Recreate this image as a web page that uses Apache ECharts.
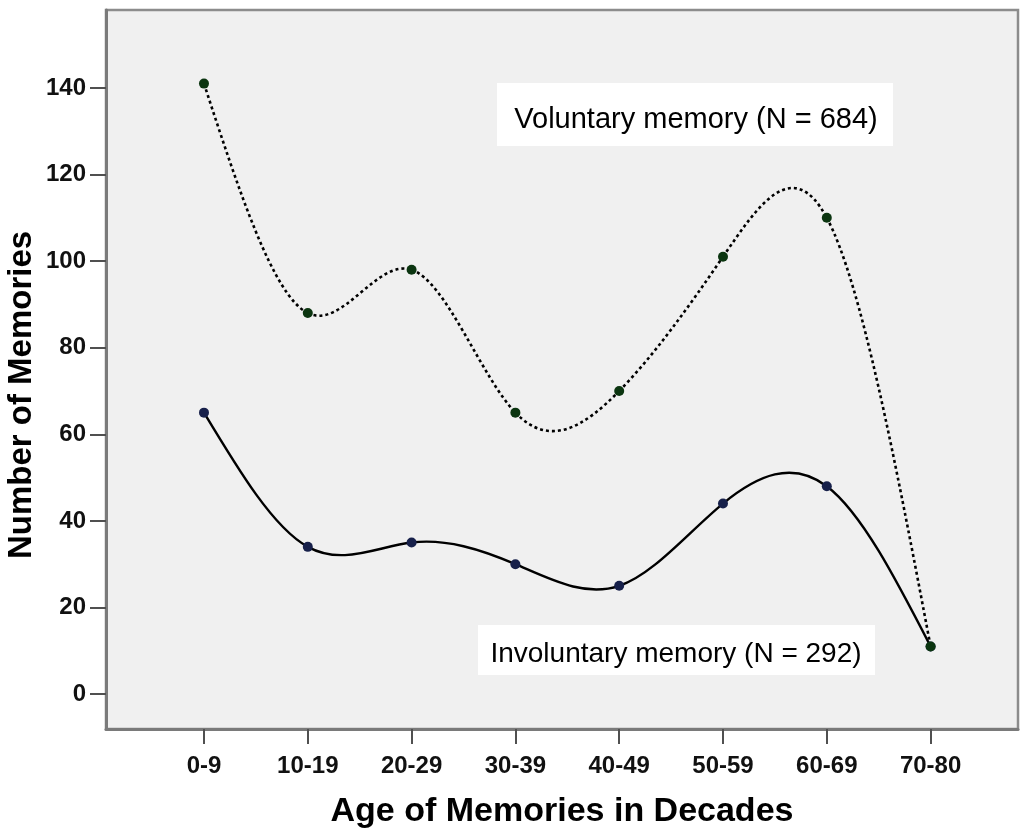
<!DOCTYPE html>
<html>
<head>
<meta charset="utf-8">
<title>Age of Memories in Decades</title>
<script src="https://cdn.jsdelivr.net/npm/echarts@6.0.0/dist/echarts.min.js"></script>
<style>
	html, body {
		margin: 0;
		padding: 0;
		background: #ffffff;
	}
	#chart {
		width: 1020px;
		height: 834px;
	}
</style>
</head>
<body>
<div id="chart"></div>
<script>
const categories = ["0-9", "10-19", "20-29", "30-39", "40-49", "50-59", "60-69", "70-80"]
const voluntary = [141, 88, 98, 65, 70, 101, 110, 11]
const involuntary = [65, 34, 35, 30, 25, 44, 48, 11]
const yTicks = [0, 20, 40, 60, 80, 100, 120, 140]
const voluntaryLabel = "Voluntary memory (N = 684)"
const involuntaryLabel = "Involuntary memory (N = 292)"

const xTicks = categories.map((c, i) => i)
const toPairs = arr => arr.map((v, i) => [i, v])

const font = "Arial, 'Liberation Sans', Helvetica, sans-serif"

// slopes of a natural cubic spline through the points (unit spacing),
// used only to shape the curve between the real data points
const splineSlopes = ys => {
	const n = ys.length
	const M = new Array(n).fill(0)
	const c = new Array(n).fill(0)
	const d = new Array(n).fill(0)
	for (let i = 1; i < n - 1; i++) {
		const rhs = 6 * (ys[i + 1] - 2 * ys[i] + ys[i - 1])
		const b = 4 - (i > 1 ? c[i - 1] : 0)
		c[i] = 1 / b
		d[i] = (rhs - (i > 1 ? d[i - 1] : 0)) / b
	}
	for (let i = n - 2; i >= 1; i--) {
		M[i] = d[i] - c[i] * M[i + 1]
	}
	const m = []
	for (let i = 0; i < n - 1; i++) {
		m.push(ys[i + 1] - ys[i] - (2 * M[i] + M[i + 1]) / 6)
	}
	m.push(ys[n - 1] - ys[n - 2] + (M[n - 2] + 2 * M[n - 1]) / 6)
	return m
}

const splineSeries = (name, values, lineStyle, z) => {
	const slopes = splineSlopes(values)
	return {
		name: name,
		type: "custom",
		data: toPairs(values),
		encode: { x: 0, y: 1 },
		z: z,
		silent: true,
		renderItem: (params, api) => {
			const i = params.dataIndex
			if (i >= values.length - 1) {
				return null
			}
			const p0 = api.coord([i, values[i]])
			const c1 = api.coord([i + 1 / 3, values[i] + slopes[i] / 3])
			const c2 = api.coord([i + 2 / 3, values[i + 1] - slopes[i + 1] / 3])
			const p1 = api.coord([i + 1, values[i + 1]])
			return {
				type: "bezierCurve",
				shape: {
					x1: p0[0],
					y1: p0[1],
					cpx1: c1[0],
					cpy1: c1[1],
					cpx2: c2[0],
					cpy2: c2[1],
					x2: p1[0],
					y2: p1[1]
				},
				style: Object.assign({ fill: null }, lineStyle)
			}
		}
	}
}

let option = {
	backgroundColor: "#ffffff",
	animation: false,
	grid: {
		left: 106,
		right: 2,
		top: 10,
		bottom: 104,
		show: true,
		backgroundColor: "#f0f0f0",
		borderColor: "#8c8c8c",
		borderWidth: 2.5
	},
	xAxis: {
		type: "value",
		min: -0.944,
		max: 7.842,
		splitLine: { show: false },
		axisLine: {
			show: true,
			onZero: false,
			lineStyle: { color: "#7a7a7a", width: 3 }
		},
		axisTick: {
			show: true,
			customValues: xTicks,
			length: 15,
			lineStyle: { color: "#505050", width: 2 }
		},
		axisLabel: {
			customValues: xTicks,
			formatter: v => categories[Math.round(v)],
			margin: 25,
			fontFamily: font,
			fontWeight: "bold",
			fontSize: 24,
			color: "#111111"
		},
		name: "Age of Memories in Decades",
		nameLocation: "middle",
		nameGap: 66,
		nameTextStyle: {
			fontFamily: font,
			fontWeight: "bold",
			fontSize: 34,
			color: "#000000"
		}
	},
	yAxis: {
		type: "value",
		min: -8.07,
		max: 158,
		splitLine: { show: false },
		axisLine: {
			show: true,
			onZero: false,
			lineStyle: { color: "#7a7a7a", width: 3 }
		},
		axisTick: {
			show: true,
			customValues: yTicks,
			length: 16,
			lineStyle: { color: "#505050", width: 2 }
		},
		axisLabel: {
			customValues: yTicks,
			margin: 20,
			fontFamily: font,
			fontWeight: "bold",
			fontSize: 24,
			color: "#111111"
		}
	},
	graphic: [
		{
			type: "text",
			x: 22,
			y: 395,
			rotation: Math.PI / 2,
			style: {
				text: "Number of Memories",
				font: "bold 33px " + font,
				fill: "#000000",
				textAlign: "center",
				textVerticalAlign: "middle"
			}
		},
		{
			type: "rect",
			shape: { x: 497, y: 83, width: 396, height: 63 },
			style: { fill: "#ffffff" },
			z: 1
		},
		{
			type: "text",
			x: 696,
			y: 120,
			style: {
				text: voluntaryLabel,
				font: "29px " + font,
				fill: "#000000",
				textAlign: "center",
				textVerticalAlign: "middle"
			},
			z: 2
		},
		{
			type: "rect",
			shape: { x: 478, y: 625, width: 397, height: 50 },
			style: { fill: "#ffffff" },
			z: 1
		},
		{
			type: "text",
			x: 676,
			y: 654,
			style: {
				text: involuntaryLabel,
				font: "28px " + font,
				fill: "#000000",
				textAlign: "center",
				textVerticalAlign: "middle"
			},
			z: 2
		}
	],
	series: [
		splineSeries("Involuntary", involuntary, { stroke: "#000000", lineWidth: 2.4 }, 3),
		splineSeries("Voluntary", voluntary, { stroke: "#000000", lineWidth: 2.6, lineDash: [3, 3] }, 4),
		{
			name: "Involuntary points",
			type: "scatter",
			data: toPairs(involuntary),
			symbol: "circle",
			symbolSize: 10,
			itemStyle: { color: "#17204a", opacity: 1 },
			z: 5
		},
		{
			name: "Voluntary points",
			type: "scatter",
			data: toPairs(voluntary),
			symbol: "circle",
			symbolSize: 10,
			itemStyle: { color: "#0b3510", opacity: 1 },
			z: 6
		}
	]
}

let chart = echarts.init(document.getElementById("chart"))
chart.setOption(option)
</script>
</body>
</html>
